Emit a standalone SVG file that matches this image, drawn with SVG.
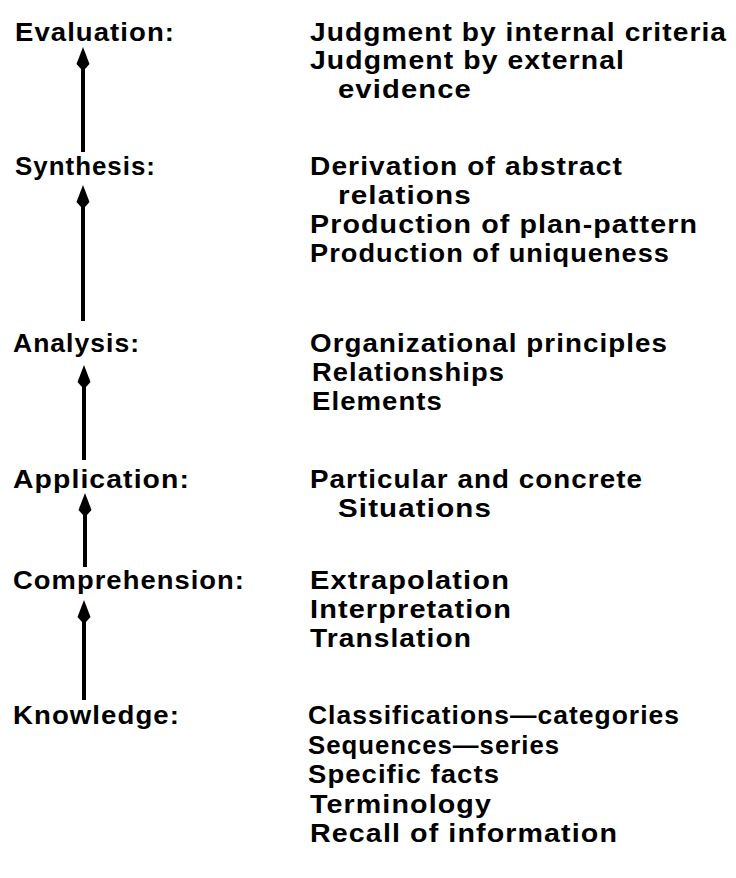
<svg xmlns="http://www.w3.org/2000/svg" width="736" height="878" viewBox="0 0 736 878">
<style>
text{font-family:"Liberation Sans",Arial,sans-serif;font-weight:bold;font-size:26px;letter-spacing:1px;fill:#000}
.c{fill:none;stroke:#000;stroke-width:4}
</style>
<defs>
<marker id="ah" viewBox="0 0 22 14" refX="11" refY="7" markerWidth="22" markerHeight="14" markerUnits="userSpaceOnUse" orient="auto">
<path d="M22,7 L5,0.5 L0,5 L0,9 L5,13.5 Z" fill="#000"/>
</marker>
</defs>
<rect width="736" height="878" fill="#fff"/>
<g id="connectors">
<path class="c" d="M83,152 V58" marker-end="url(#ah)"/>
<path class="c" d="M83,321 V196" marker-end="url(#ah)"/>
<path class="c" d="M84,460 V376" marker-end="url(#ah)"/>
<path class="c" d="M85,567 V504" marker-end="url(#ah)"/>
<path class="c" d="M84,700 V611" marker-end="url(#ah)"/>
</g>
<g id="evaluation">
<text x="15" y="41" textLength="160" lengthAdjust="spacingAndGlyphs">Evaluation:</text>
<text x="310" y="41" textLength="417" lengthAdjust="spacingAndGlyphs">Judgment by internal criteria</text>
<text x="310" y="69" textLength="315" lengthAdjust="spacingAndGlyphs">Judgment by external</text>
<text x="338" y="98" textLength="134" lengthAdjust="spacingAndGlyphs">evidence</text>
</g>
<g id="synthesis">
<text x="15" y="175" textLength="141" lengthAdjust="spacingAndGlyphs">Synthesis:</text>
<text x="310" y="175" textLength="313" lengthAdjust="spacingAndGlyphs">Derivation of abstract</text>
<text x="338" y="204" textLength="134" lengthAdjust="spacingAndGlyphs">relations</text>
<text x="310" y="233" textLength="388" lengthAdjust="spacingAndGlyphs">Production of plan-pattern</text>
<text x="310" y="262" textLength="360" lengthAdjust="spacingAndGlyphs">Production of uniqueness</text>
</g>
<g id="analysis">
<text x="13" y="352" textLength="127" lengthAdjust="spacingAndGlyphs">Analysis:</text>
<text x="310" y="352" textLength="358" lengthAdjust="spacingAndGlyphs">Organizational principles</text>
<text x="312" y="381" textLength="193" lengthAdjust="spacingAndGlyphs">Relationships</text>
<text x="312" y="410" textLength="131" lengthAdjust="spacingAndGlyphs">Elements</text>
</g>
<g id="application">
<text x="13" y="488" textLength="177" lengthAdjust="spacingAndGlyphs">Application:</text>
<text x="310" y="488" textLength="333" lengthAdjust="spacingAndGlyphs">Particular and concrete</text>
<text x="338" y="517" textLength="154" lengthAdjust="spacingAndGlyphs">Situations</text>
</g>
<g id="comprehension">
<text x="13" y="589" textLength="232" lengthAdjust="spacingAndGlyphs">Comprehension:</text>
<text x="310" y="589" textLength="200" lengthAdjust="spacingAndGlyphs">Extrapolation</text>
<text x="310" y="618" textLength="202" lengthAdjust="spacingAndGlyphs">Interpretation</text>
<text x="310" y="647" textLength="162" lengthAdjust="spacingAndGlyphs">Translation</text>
</g>
<g id="knowledge">
<text x="13" y="724" textLength="167" lengthAdjust="spacingAndGlyphs">Knowledge:</text>
<text x="308" y="724" textLength="372" lengthAdjust="spacingAndGlyphs">Classifications—categories</text>
<text x="308" y="754" textLength="252" lengthAdjust="spacingAndGlyphs">Sequences—series</text>
<text x="308" y="783" textLength="192" lengthAdjust="spacingAndGlyphs">Specific facts</text>
<text x="310" y="813" textLength="182" lengthAdjust="spacingAndGlyphs">Terminology</text>
<text x="310" y="842" textLength="308" lengthAdjust="spacingAndGlyphs">Recall of information</text>
</g>
</svg>
